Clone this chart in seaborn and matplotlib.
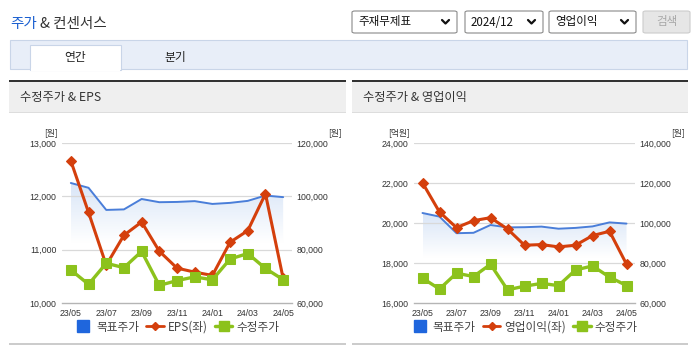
import numpy as np
import pandas as pd
import seaborn as sns
import matplotlib
matplotlib.use("Agg")
import matplotlib.pyplot as plt
from matplotlib.patches import Rectangle, FancyBboxPatch
from matplotlib.lines import Line2D
from matplotlib.colors import LinearSegmentedColormap

# ---------------- data ----------------
months = ["23/05", "23/06", "23/07", "23/08", "23/09", "23/10", "23/11",
          "23/12", "24/01", "24/02", "24/03", "24/04", "24/05"]
target_price = [105000, 103200, 94900, 95100, 99000, 97800, 97900,
                98200, 97150, 97550, 98300, 100300, 99700]
adj_price = [72400, 67000, 74900, 73250, 79350, 66600, 68400,
             69800, 68700, 76500, 78550, 72950, 68750]
eps = [12664, 11699, 10710, 11270, 11519, 10971, 10654,
       10579, 10517, 11139, 11357, 12048, 10461]
op_profit = [22009, 20548, 19768, 20117, 20266, 19702, 18888,
             18922, 18805, 18888, 19370, 19586, 17942]

left_chart_ticks = [10000, 11000, 12000, 13000]
right_chart_ticks = [16000, 18000, 20000, 22000, 24000]
price_ticks_l = [60000, 80000, 100000, 120000]
price_ticks_r = [60000, 80000, 100000, 120000, 140000]

# ---------------- style ----------------
sns.set_theme(style="white")
plt.rcParams["font.family"] = ["Noto Sans CJK KR", "DejaVu Sans"]
NUMFONT = ["Liberation Sans Narrow", "Liberation Sans", "DejaVu Sans"]

W, H = 695, 349
fig = plt.figure(figsize=(W / 100, H / 100), dpi=100)
fig.patch.set_facecolor("white")

def fx(x):
    return x / W

def fy(y):
    return 1 - y / H

BLUE = "#4a7ed9"
BLUE_SQ = "#1f66dd"
RED = "#d43f0c"
GREEN = "#8cc21c"
TXT = "#333333"

# ---------------- page furniture ----------------
fig.text(fx(10), fy(24), "주가", color="#1a5fd0", fontsize=10.5, va="center", ha="left")
fig.text(fx(40), fy(24), "& 컨센서스", color="#333333", fontsize=10.5, va="center", ha="left")

def dropdown(x0, x1, label):
    fig.patches.append(FancyBboxPatch((fx(x0), fy(33)), fx(x1 - x0), (33 - 11) / H,
                                      boxstyle="round,pad=0,rounding_size=0.004",
                                      transform=fig.transFigure, facecolor="white",
                                      edgecolor="#8a8a8a", linewidth=0.8))
    fig.text(fx(x0 + 6), fy(22), label, fontsize=8.3, color="#111111", va="center", ha="left")
    r = x1 - 8
    fig.lines.append(Line2D([fx(r - 7), fx(r - 3.5), fx(r)], [fy(20), fy(23.5), fy(20)],
                            transform=fig.transFigure, color="#111111", linewidth=1.6))

dropdown(352, 457, "주재무제표")
dropdown(465, 543, "2024/12")
dropdown(549, 636, "영업이익")
fig.patches.append(FancyBboxPatch((fx(643), fy(33)), fx(690 - 643), (33 - 11) / H,
                                  boxstyle="round,pad=0,rounding_size=0.004",
                                  transform=fig.transFigure, facecolor="#e6e6e6",
                                  edgecolor="#cccccc", linewidth=0.8))
fig.text(fx(666.5), fy(22), "검색", fontsize=8.3, color="#a8a8a8", va="center", ha="center")

# tab bar
fig.patches.append(Rectangle((fx(10), fy(69)), fx(677), 29 / H, transform=fig.transFigure,
                             facecolor="#e8eef8", edgecolor="#c9d5e8", linewidth=0.8))
fig.patches.append(Rectangle((fx(30), fy(70)), fx(91), 25 / H, transform=fig.transFigure,
                             facecolor="white", edgecolor="#c9d5e8", linewidth=0.8))
fig.patches.append(Rectangle((fx(30.5), fy(71)), fx(90), 3 / H, transform=fig.transFigure,
                             facecolor="white", edgecolor="none"))
fig.text(fx(75), fy(57), "연간", fontsize=8.5, color="#222222", va="center", ha="center")
fig.text(fx(175), fy(57), "분기", fontsize=8.5, color="#222222", va="center", ha="center")

# panel headers
for (x0, x1, title) in [(9, 346, "수정주가 & EPS"), (352, 688, "수정주가 & 영업이익")]:
    fig.patches.append(Rectangle((fx(x0), fy(112)), fx(x1 - x0), 32 / H, transform=fig.transFigure,
                                 facecolor="#efefef", edgecolor="none"))
    fig.patches.append(Rectangle((fx(x0), fy(82)), fx(x1 - x0), 2 / H, transform=fig.transFigure,
                                 facecolor="#333333", edgecolor="none"))
    fig.patches.append(Rectangle((fx(x0), fy(113)), fx(x1 - x0), 1 / H, transform=fig.transFigure,
                                 facecolor="#dddddd", edgecolor="none"))
    fig.patches.append(Rectangle((fx(x0), fy(345)), fx(x1 - x0), 2 / H, transform=fig.transFigure,
                                 facecolor="#cccccc", edgecolor="none"))
    fig.text(fx(x0 + 11), fy(97), title, fontsize=8.8, color="#333333", va="center", ha="left")

grad_cmap = LinearSegmentedColormap.from_list("g", ["#ffffff", "#ffffff", "#d8e5f7"])

def make_chart(px0, px1, left_vals, left_ticks, left_unit, left_label, price_ticks):
    ax = fig.add_axes([fx(px0), fy(303), fx(px1 - px0), 160 / H])
    axb = ax.twinx()
    axt = ax.twinx()
    axb.set_zorder(0)
    ax.set_zorder(1)
    axt.set_zorder(2)
    for a in (ax, axt):
        a.patch.set_visible(False)
    axb.patch.set_facecolor("white")

    xpos = np.arange(len(months))
    pmin, pmax = price_ticks[0], price_ticks[-1]

    # gradient fill under target price
    poly = axb.fill_between(xpos, target_price, pmin, color="none", linewidth=0)
    grad = np.linspace(0, 1, 256).reshape(-1, 1)
    im = axb.imshow(grad, extent=[0, len(months) - 1, pmin, max(target_price)],
                    origin="lower", aspect="auto", cmap=grad_cmap, zorder=1)
    im.set_clip_path(poly.get_paths()[0], transform=axb.transData)

    for t in price_ticks[1:]:
        axb.axhline(t, color="#d9d9d9", linewidth=0.9, zorder=1.5)

    sns.lineplot(x=xpos, y=target_price, ax=axb, color=BLUE, linewidth=1.4, zorder=3)
    sns.lineplot(x=xpos, y=left_vals, ax=ax, color=RED, linewidth=2.2, marker="D",
                 markersize=5.5, markeredgecolor=RED, markeredgewidth=0.8, zorder=3)
    sns.lineplot(x=xpos, y=adj_price, ax=axt, color=GREEN, linewidth=2.4, marker="s",
                 markersize=7, markeredgecolor=GREEN, zorder=3)

    ax.set_ylim(left_ticks[0], left_ticks[-1])
    ax.set_yticks(left_ticks)
    ax.set_yticklabels([f"{v:,}" for v in left_ticks], fontfamily=NUMFONT, fontsize=6.3, color=TXT)
    for a in (axb, axt):
        a.set_ylim(pmin, pmax)
    axb.set_yticks(price_ticks)
    axb.set_yticklabels([f"{v:,}" for v in price_ticks], fontfamily=NUMFONT, fontsize=6.3, color=TXT)
    axt.set_yticks([])
    for a in (ax, axb, axt):
        a.set_xlim(-0.5, len(months) - 0.5)
        a.set_ylabel("")
        a.set_xlabel("")
        for s in a.spines.values():
            s.set_visible(False)
        a.grid(False)
    ax.spines["bottom"].set_visible(True)
    ax.spines["bottom"].set_color("#b5b5b5")
    ax.spines["bottom"].set_linewidth(1.0)

    ax.set_xticks(xpos[::2])
    ax.set_xticklabels(months[::2], fontfamily=NUMFONT, fontsize=6.3, color=TXT)
    ax.set_xticks([-0.5] + [i + 0.5 for i in range(0, len(months), 2)], minor=True)
    ax.tick_params(axis="x", which="major", length=0, pad=4)
    ax.tick_params(axis="x", which="minor", length=4, color="#b5b5b5", width=1.0, direction="out")
    ax.tick_params(axis="y", length=0, pad=4)
    axb.tick_params(axis="y", length=0, pad=3)
    axb.tick_params(axis="x", length=0, labelbottom=False)
    axt.tick_params(axis="x", length=0, labelbottom=False)

    # unit labels
    fig.text(fx(px0 - 4), fy(133), left_unit, fontsize=6.3, color=TXT, ha="right", va="center")
    fig.text(fx(px1 + 36), fy(133), "[원]", fontsize=6.3, color=TXT, ha="left", va="center")

    # legend
    handles = [
        Line2D([], [], marker="s", linestyle="none", markersize=9, color=BLUE_SQ),
        Line2D([], [], color=RED, linewidth=2, marker="D", markersize=4.5),
        Line2D([], [], color=GREEN, linewidth=2.5, marker="s", markersize=6.5),
    ]
    labels = ["목표주가", left_label, "수정주가"]
    cx = (px0 + px1) / 2
    fig.legend(handles, labels, loc="center", bbox_to_anchor=(fx(cx), fy(327)), ncol=3,
               frameon=False, fontsize=8.4, handlelength=1.5, handletextpad=0.35,
               columnspacing=0.6, labelcolor="#444444", borderaxespad=0, borderpad=0)
    return ax

make_chart(62, 292, eps, left_chart_ticks, "[원]", "EPS(좌)", price_ticks_l)
make_chart(414, 635, op_profit, right_chart_ticks, "[억원]", "영업이익(좌)", price_ticks_r)

fig.savefig("out.png", dpi=100, facecolor="white")
